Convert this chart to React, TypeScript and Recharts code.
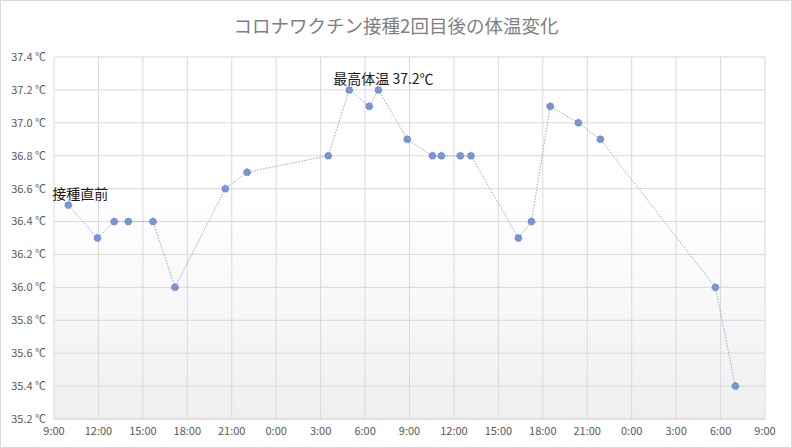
import { CartesianGrid, LabelList, Line, LineChart, XAxis, YAxis } from "recharts";

// measured times ("day h:mm", day 0 = vaccination day) and body temperature
const times = [
  "0 9:58", "0 11:56", "0 13:04", "0 14:01", "0 15:41", "0 17:10", "0 20:34", "0 22:02",
  "1 3:31", "1 4:56", "1 6:17", "1 6:54", "1 8:51", "1 10:33", "1 11:09", "1 12:26",
  "1 13:09", "1 16:21", "1 17:14", "1 18:30", "1 20:24", "1 21:53", "2 5:39", "2 7:00",
];
const temps = [
  36.5, 36.3, 36.4, 36.4, 36.4, 36.0, 36.6, 36.7,
  36.8, 37.2, 37.1, 37.2, 36.9, 36.8, 36.8, 36.8,
  36.8, 36.3, 36.4, 37.1, 37.0, 36.9, 36.0, 35.4,
];
const notes = [
  "接種直前", "", "", "", "", "", "", "",
  "", "最高体温 37.2℃", "", "", "", "", "", "",
  "", "", "", "", "", "", "", "",
];
const xTicks = [0, 3, 6, 9, 12, 15, 18, 21, 24, 27, 30, 33, 36, 39, 42, 45, 48];
const yTicks = [35.2, 35.4, 35.6, 35.8, 36.0, 36.2, 36.4, 36.6, 36.8, 37.0, 37.2, 37.4];

const START_HOUR = 9;

const toHours = (s: string) => {
  const [d, hm] = s.split(" ");
  const [h, m] = hm.split(":").map(Number);
  return Number(d) * 24 + h + m / 60 - START_HOUR;
};

const data = times.map((t, i) => ({ t: toHours(t), temp: temps[i], note: notes[i] }));

const fmtX = (v: number) => `${(START_HOUR + v) % 24}:00`;
const fmtY = (v: number) => `${v.toFixed(1)} ℃`;

const font = "'Noto Sans CJK JP', 'Noto Sans', sans-serif";

const NoteLabel = (props: any) => {
  const { x, y, value } = props;
  if (!value) return null;
  return (
    <text x={x - 16} y={y - 6} fontSize={14} fill="#1a1a1a" fontFamily={font}>
      {value}
    </text>
  );
};

export default function App() {
  return (
    <div
      style={{
        position: "absolute",
        left: 0,
        top: 0,
        width: 792,
        height: 448,
        boxSizing: "border-box",
        border: "1px solid #d9d9d9",
        background: "#fff",
        fontFamily: font,
      }}
    >
      <svg width={0} height={0} style={{ position: "absolute" }}>
        <defs>
          <linearGradient id="plotBg" x1="0" y1="0" x2="0" y2="1">
            <stop offset="0" stopColor="#ffffff" />
            <stop offset="0.4" stopColor="#ffffff" />
            <stop offset="1" stopColor="#efefef" />
          </linearGradient>
        </defs>
      </svg>
      <div
        style={{
          position: "absolute",
          left: 0,
          right: 0,
          top: 10,
          textAlign: "center",
          fontSize: 18.5,
          color: "#7f7f7f",
          lineHeight: "28px",
        }}
      >
        コロナワクチン接種2回目後の体温変化
      </div>
      <LineChart width={790} height={446} data={data} margin={{ top: 56, right: 26, left: 0, bottom: 0 }}>
        <CartesianGrid stroke="#d9d9d9" fill="url(#plotBg)" />
        <XAxis
          type="number"
          dataKey="t"
          domain={[0, 48]}
          ticks={xTicks}
          tickFormatter={fmtX}
          interval={0}
          height={28}
          axisLine={{ stroke: "#d9d9d9" }}
          tickLine={false}
          tick={{ fill: "#595959", fontSize: 11, fontFamily: font }}
        />
        <YAxis
          type="number"
          domain={[35.2, 37.4]}
          ticks={yTicks}
          tickFormatter={fmtY}
          interval={0}
          width={53}
          axisLine={false}
          tickLine={false}
          tick={{ fill: "#595959", fontSize: 11, fontFamily: font }}
        />
        <Line
          type="linear"
          dataKey="temp"
          stroke="#8ea6d8"
          strokeWidth={1}
          strokeDasharray="1.5 1.5"
          dot={{ r: 3.5, fill: "#7896d6", stroke: "#4a6cb8", strokeWidth: 0.75 }}
          activeDot={false}
          isAnimationActive={false}
        >
          <LabelList dataKey="note" content={NoteLabel} />
        </Line>
      </LineChart>
    </div>
  );
}
